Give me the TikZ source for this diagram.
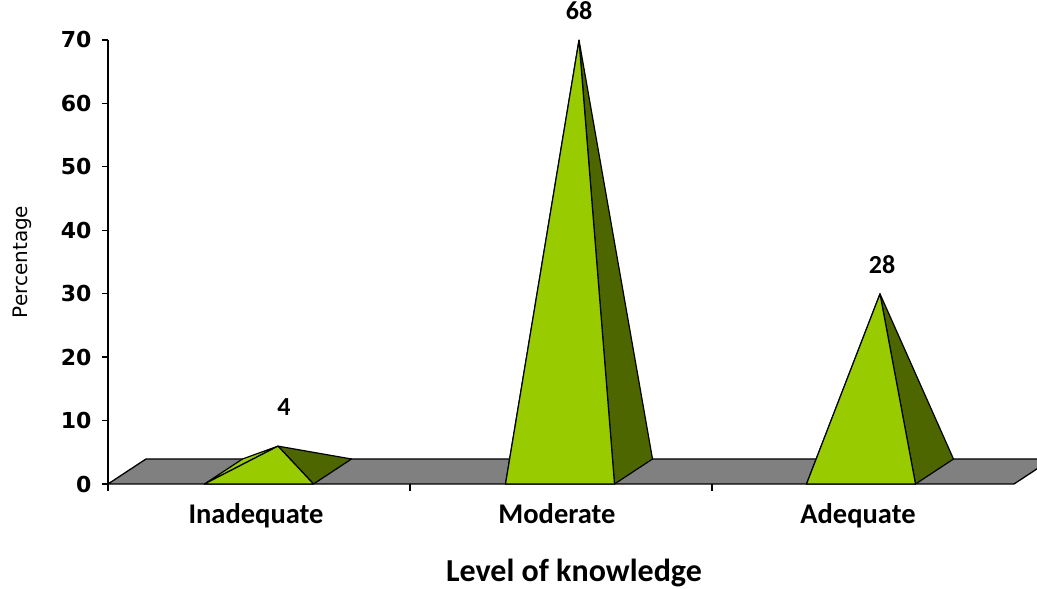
\documentclass[tikz,border=0pt]{standalone}
\usepackage{fontspec}
\setmainfont{Carlito}
\newfontfamily\axisfont{DejaVu Sans}
\usetikzlibrary{positioning}
\definecolor{lightgreen}{RGB}{153,204,0}
\definecolor{darkgreen}{RGB}{77,102,0}
\definecolor{floorgray}{RGB}{128,128,128}

\begin{document}
\begin{tikzpicture}[x=1pt, y=1pt, line join=round]
        % Define styles
        \tikzstyle{floor} = [draw=black, fill=floorgray, line width=1.3pt]
        \tikzstyle{face} = [draw=black, line width=1.2pt]
        \tikzstyle{axis} = [draw=black, line width=1.3pt]
        \tikzstyle{ticklabel} = [anchor=east, font=\axisfont\bfseries\fontsize{22}{24}\selectfont]
        \tikzstyle{catlabel} = [font=\bfseries\fontsize{28.5}{30}\selectfont, text height=0.7em, text depth=0.22em]
        \tikzstyle{valuelabel} = [font=\bfseries\fontsize{26}{28}\selectfont, inner sep=0pt]

        \useasboundingbox (-108,-105) rectangle (929,484);

        % Floor of the chart
        \draw[floor] (0,0) -- (906,0) -- (944,25) -- (38,25) -- cycle;

        % Axes and ticks
        \draw[axis] (0,-7) -- (0,444);
        \foreach \v in {0,10,...,70} {
            \draw[axis] (-6,\v*6.343) -- (0,\v*6.343);
            \node[ticklabel] (tick\v) at (-13,\v*6.343) {\v};
        }
        \foreach \x in {302,604} \draw[axis] (\x,0) -- (\x,-7);

        % Pyramids
        \foreach \cx/\v/\name/\gap/\dx/\cat in {151/4/ina/30pt/6/Inadequate, 452/68/mod/20pt/0/Moderate, 753/28/ade/20pt/2/Adequate} {
            \coordinate (\name-fl) at (\cx-54.5,0);
            \coordinate (\name-fr) at (\cx+54.5,0);
            \coordinate (\name-bl) at (\cx-16.5,25);
            \coordinate (\name-br) at (\cx+92.5,25);
            \coordinate (\name-apex) at (\cx+19,\v*6.343+12.5);
            \draw[face, fill=lightgreen] (\name-fl) -- (\name-bl) -- (\name-apex) -- cycle;
            \draw[face, fill=darkgreen] (\name-fr) -- (\name-br) -- (\name-apex) -- cycle;
            \draw[face, fill=lightgreen] (\name-fl) -- (\name-fr) -- (\name-apex) -- cycle;
            \node[valuelabel, above=\gap of \name-apex, xshift=\dx pt] (val-\name) {\v};
            \node[catlabel] (cat-\name) at (\cx-3,-37) {\cat};
        }

        % Axis titles
        \node[rotate=90, font=\axisfont\fontsize{20}{22}\selectfont] (ylabel) at (-86,222) {Percentage};
        \node[font=\bfseries\fontsize{32}{36}\selectfont] (xlabel) at (466,-89) {Level of knowledge};

    \end{tikzpicture}
\end{document}
